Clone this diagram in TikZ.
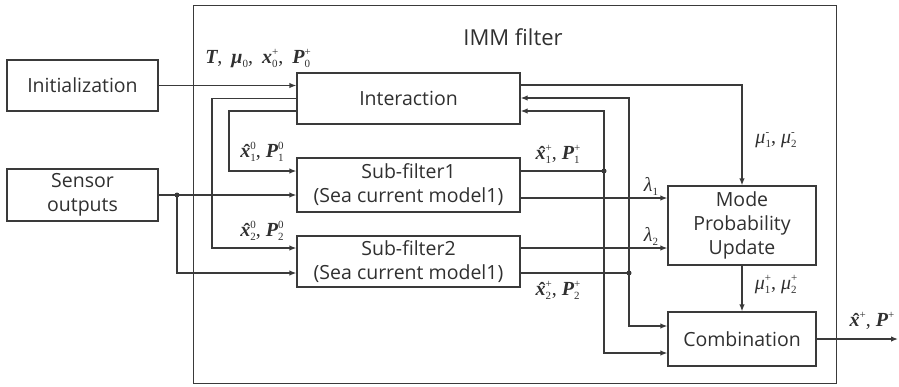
\documentclass[tikz,border=0pt]{standalone}
\usepackage{graphicx}
\usepackage{fontspec}
\setmainfont{Open Sans}
\newfontfamily\tms{Liberation Serif}
\usetikzlibrary{arrows.meta}

\definecolor{ln}{HTML}{3A3A3A}
\definecolor{txt}{HTML}{303030}
\newcommand{\boxfont}{\fontsize{19.5}{24}\selectfont}

% symbols for the signal labels
\newcommand{\bv}[1]{{\bfseries\itshape #1}}
\newcommand{\ssc}[2]{{\fontsize{11}{11}\selectfont\ooalign{\raisebox{-4pt}{#1}\cr\raisebox{8pt}{#2}\cr}}}
\newcommand{\xh}{\ooalign{\bv{x}\cr\hidewidth\kern3pt\raisebox{-1.5pt}{\bfseries ˆ}\hidewidth\cr}}
\newcommand{\sep}{,\hspace{5pt}}
\newcommand{\wsep}{,\hspace{9pt}}

\tikzset{
  blk/.style={draw=ln, line width=1.3pt, fill=white, text=txt, font=\boxfont,
              align=center, inner sep=0pt},
  arr/.style={draw=ln, line width=1.3pt, -{Latex[length=7pt,width=5.5pt]}},
  wire/.style={draw=ln, line width=1.3pt},
  jn/.style={circle, fill=ln, inner sep=0pt, minimum size=5pt},
  lbl/.style={text=txt, font=\tms\fontsize{20}{24}\selectfont, inner sep=0pt}
}

\begin{document}
\begin{tikzpicture}[x=1pt,y=-1pt]
\useasboundingbox (0,0) rectangle (899,386);

% outer IMM frame
\node[draw=ln, line width=1.3pt, minimum width=643pt, minimum height=378pt,
      inner sep=0pt, anchor=north west] (imm) at (193,5) {};
\node[text=txt, font=\fontsize{22}{26}\selectfont] (immt) at (513,37) {IMM filter};

% blocks
\node[blk, minimum width=151pt, minimum height=51pt] (init)   at (82.5,85.5) {Initialization};
\node[blk, minimum width=151pt, minimum height=52pt] (sensor) at (82.5,195) {Sensor\\outputs};
\node[blk, minimum width=223pt, minimum height=51pt] (inter)  at (408.5,98.5) {Interaction};
\node[blk, minimum width=223pt, minimum height=54pt] (sf1)    at (408.5,185) {Sub-filter1\\(Sea current model1)};
\node[blk, minimum width=223pt, minimum height=51pt] (sf2)    at (408.5,261.5) {Sub-filter2\\(Sea current model1)};
\node[blk, minimum width=148pt, minimum height=79pt] (mpu)    at (742,225.5) {Mode\\Probability\\Update};
\node[blk, minimum width=148pt, minimum height=54pt] (comb)   at (742,339) {Combination};

% junctions and free end
\coordinate (sj) at (177,195);
\coordinate (d1) at (604,171);
\coordinate (d2) at (629,273);
\coordinate (out) at (898,339);

% initialization and interaction outputs
\draw[arr] (init.east) -- (inter.west |- init.east);
\draw[arr] (inter.west) -| (212,248) -- (sf2.west |- 0,248);
\draw[arr] (inter.west |- 0,111) -| (229,171) -- (sf1.west |- 0,171);

% sensor outputs to both sub-filters
\draw[arr] (sensor.east) -- (sf1.west |- sensor.east);
\draw[arr] (sj) |- (sf2.west |- 0,273);

% sub-filter 1 state feedback
\draw[wire] (sf1.east |- d1) -- (d1);
\draw[arr] (d1) |- (inter.east |- 0,111);
\draw[arr] (d1) |- (comb.west |- 0,353);

% sub-filter 2 state feedback
\draw[wire] (sf2.east |- d2) -- (d2);
\draw[arr] (d2) |- (inter.east |- 0,98);
\draw[arr] (d2) |- (comb.west |- 0,326);

% likelihoods
\draw[arr] (sf1.east |- 0,198) -- (mpu.west |- 0,198);
\draw[arr] (sf2.east |- 0,248) -- (mpu.west |- 0,248);

% mode probabilities
\draw[arr] (inter.east |- 0,85) -| (mpu.north);
\draw[arr] (mpu.south) -- (comb.north);

% final estimate
\draw[arr] (comb.east) -- (out);

% junction dots
\node[jn] at (sj) {};
\node[jn] at (d1) {};
\node[jn] at (d2) {};

% signal labels
\node[lbl] (l0)  at (258,59)  {\bv{T}\wsep\bv{μ}\ssc{0}{}\wsep\bv{x}\ssc{0}{+}\wsep\bv{P}\ssc{0}{+}};
\node[lbl] (l10) at (262,152) {\xh\ssc{1}{0}\sep\bv{P}\ssc{1}{0}};
\node[lbl] (l20) at (262,231) {\xh\ssc{2}{0}\sep\bv{P}\ssc{2}{0}};
\node[lbl] (l1p) at (558,154) {\xh\ssc{1}{+}\sep\bv{P}\ssc{1}{+}};
\node[lbl] (l2p) at (558,290) {\xh\ssc{2}{+}\sep\bv{P}\ssc{2}{+}};
\node[lbl] (lmm) at (776,141) {{\itshape μ}\ssc{1}{-}\sep{\itshape μ}\ssc{2}{-}};
\node[lbl] (lmp) at (776,287) {{\itshape μ}\ssc{1}{+}\sep{\itshape μ}\ssc{2}{+}};
\node[lbl] (la1) at (651,184) {{\itshape λ}\ssc{1}{}};
\node[lbl] (la2) at (651,234) {{\itshape λ}\ssc{2}{}};
\node[lbl] (lo)  at (872,321) {\xh\ssc{}{+}\sep\bv{P}\ssc{}{+}};
\end{tikzpicture}
\end{document}
